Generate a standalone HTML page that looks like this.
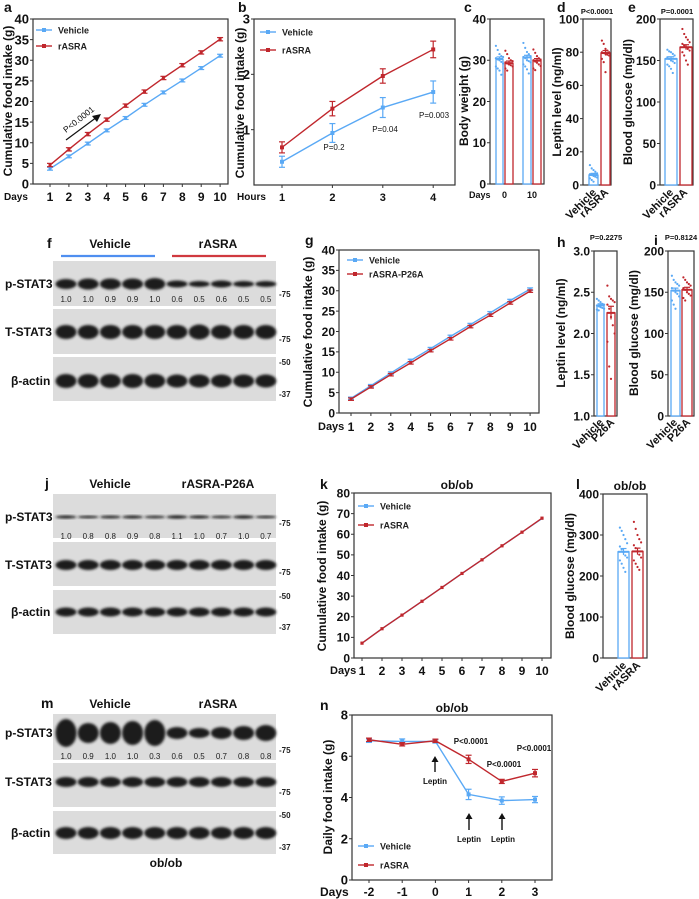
<!DOCTYPE html>
<html><head><meta charset="utf-8">
<style>
body{margin:0;background:#fff;}
svg{display:block;font-family:"Liberation Sans",Arial,sans-serif;}
</style></head>
<body>
<svg id="fig" width="699" height="899" viewBox="0 0 699 899" xmlns="http://www.w3.org/2000/svg">
<defs><filter id="blur" x="-20%" y="-50%" width="140%" height="200%"><feGaussianBlur stdDeviation="1.2"/></filter></defs>
</svg>
<script>
// ---- data ----
const aDays=[1,2,3,4,5,6,7,8,9,10];
const aVeh=[3.7,6.7,9.8,13,16,19.2,22.2,25.1,28.1,31.1];
const aRasra=[4.6,8.4,12.1,15.6,19,22.4,25.7,28.8,31.9,35.1];
const bHours=[1,2,3,4];
const bVeh=[0.42,0.94,1.40,1.68];
const bVehErr=[0.1,0.17,0.18,0.2];
const bRasra=[0.68,1.38,1.97,2.45];
const bRasraErr=[0.1,0.13,0.13,0.15];
const cGroups=["0","10"];
const cVehMean=[30.3,30.7];
const cRasraMean=[29.3,29.9];
const cVehDots=[[33.5,32.5,31.5,31,30.8,30.5,30.2,30,29.6,29.2,28.5,28,27.5,26.5],[34.2,33,32,31.5,31,30.8,30.5,30,29.8,29.5,29,28.5,27.8,26.8]];
const cRasraDots=[[32.3,31.5,30.5,30,29.8,29.5,29.2,29,28.8,28.5,28,27.5],[32.6,31.8,31,30.5,30.2,30,29.7,29.4,29,28.6,28,27.6]];
const dMean=[6,79.5];
const dVehDots=[12,10,9,8,7,6.5,6,5.5,5,4.5,4,3,2];
const dRasraDots=[87,85,82,81,80,80,79.5,79,78.5,78,76,74,68];
const eMean=[152,166];
const eVehDots=[163,161,160,158,156,154,152,150,149,147,145,143,140,135];
const eRasraDots=[188,182,178,175,172,170,168,166,164,162,160,156,150,145];
const gVeh=[3.6,6.7,9.8,12.9,15.8,18.8,21.7,24.6,27.6,30.4];
const gP26A=[3.4,6.4,9.4,12.3,15.3,18.2,21.2,24.0,27.0,29.9];
const hMean=[2.34,2.25];
const hVehDots=[2.42,2.4,2.38,2.36,2.35,2.34,2.33,2.32,2.31,2.3,2.29,2.28];
const hRasraDots=[2.58,2.45,2.42,2.4,2.38,2.35,2.3,2.2,2.1,2.0,1.9,1.6,1.45];
const iMean=[152,153];
const iVehDots=[170,165,162,160,158,155,152,150,148,145,140,135,130];
const iRasraDots=[168,165,162,160,158,155,153,150,148,146,143,140];
const kVeh=[7.2,14.2,20.8,27.5,34.2,41,47.6,54.4,61,67.6];
const kRasra=[7.2,14.2,20.8,27.5,34.2,41,47.6,54.4,61,67.8];
const lMean=[259,260];
const lVehDots=[318,310,300,290,280,272,265,258,250,245,238,230,220,210];
const lRasraDots=[332,315,300,290,282,275,268,260,252,245,238,230,222,215];
const nDays=[-2,-1,0,1,2,3];
const nVeh=[6.75,6.72,6.72,4.15,3.85,3.9];
const nVehErr=[0.08,0.12,0.08,0.25,0.18,0.15];
const nRasra=[6.8,6.58,6.75,5.85,4.78,5.18];
const nRasraErr=[0.08,0.08,0.08,0.2,0.1,0.18];
const fNums=["1.0","1.0","0.9","0.9","1.0","0.6","0.5","0.6","0.5","0.5"];
const jNums=["1.0","0.8","0.8","0.9","0.8","1.1","1.0","0.7","1.0","0.7"];
const mNums=["1.0","0.9","1.0","1.0","0.3","0.6","0.5","0.7","0.8","0.8"];

const BLUE="#5aa9f5", RED="#c0272d";
const NS="http://www.w3.org/2000/svg";
const svg=document.getElementById('fig');
function el(tag,attrs){const e=document.createElementNS(NS,tag);for(const k in attrs)e.setAttribute(k,attrs[k]);svg.appendChild(e);return e;}
function T(x,y,s,size,anchor,weight,fill,rot,name){
  const t=el('text',{x:x,y:y,'font-size':size,'text-anchor':anchor||'start','font-weight':weight||'bold',fill:fill||'#111'});
  if(rot)t.setAttribute('transform','rotate('+rot+' '+x+' '+y+')');
  t.textContent=s;
  
  
  return t;
}
function L(x1,y1,x2,y2,stroke,w,name){
  const l=el('line',{x1:x1,y1:y1,x2:x2,y2:y2,stroke:stroke||'#222','stroke-width':w||1});
  
  
  return l;
}
function frame(x0,x1,yt,yb,name){
  const r=el('rect',{x:x0,y:yt,width:x1-x0,height:yb-yt,fill:'none',stroke:'#333','stroke-width':1.2});
  
  
}
function yAxis(x0,yt,yb,ymin,ymax,ticks,size,fmt,name){
  const sy=v=>yb-(v-ymin)/(ymax-ymin)*(yb-yt);
  ticks.forEach(v=>{L(x0-3,sy(v),x0,sy(v),'#333',1,name+'-tick');T(x0-4,sy(v)+size*0.36,fmt?fmt(v):String(v),size,'end','bold','#111',0,name+'-tick-label');});
  return sy;
}
function series(xs,ys,errs,sy,color,name,marker){
  const pts=xs.map((x,i)=>x+','+sy(ys[i])).join(' ');
  const p=el('polyline',{points:pts,fill:'none',stroke:color,'stroke-width':1.4});
  
  
  xs.forEach((x,i)=>{
    if(errs){
      const e=errs[i];
      L(x,sy(ys[i]-e),x,sy(ys[i]+e),color,1.2,name+'-error');
      L(x-3,sy(ys[i]+e),x+3,sy(ys[i]+e),color,1.2,name+'-error-cap');
      L(x-3,sy(ys[i]-e),x+3,sy(ys[i]-e),color,1.2,name+'-error-cap');
    }
    const m=el('rect',{x:x-(marker||2),y:sy(ys[i])-(marker||2),width:2*(marker||2),height:2*(marker||2),fill:color});
    
    
  });
}
function legend(x,y,color,label,name){
  L(x,y,x+16,y,color,1.4,name+'-swatch');
  const m=el('rect',{x:x+6,y:y-2,width:4,height:4,fill:color});
  
  
  T(x+22,y+3.5,label,9,'start','bold','#222',0,name+'-text');
}
function bar(x0,x1,v,sy,color,dots,name,err){
  const r=el('rect',{x:x0,y:sy(v),width:x1-x0,height:Math.max(0,sy.base-sy(v)),fill:'#fff',stroke:color,'stroke-width':1.3});
  
  
  const cx=(x0+x1)/2;
  dots.forEach((d,i)=>{
    const c=el('circle',{cx:cx+((i%5)-2)*1.8,cy:sy(d),r:1.1,fill:color});
    
    
  });
  const e=err;
  L(cx,sy(v-e),cx,sy(v+e),color,1.2,name+'-error');
  L(cx-3,sy(v+e),cx+3,sy(v+e),color,1.2,name+'-error-cap');
  L(x0,sy(v),x1,sy(v),color,2,name+'-mean');
}
function mkScale(yt,yb,ymin,ymax){const f=v=>yb-(v-ymin)/(ymax-ymin)*(yb-yt);f.base=yb;return f;}

// ===== Panel a =====
T(4,12,'a',14,'start','bold','#111',0,'panel-a-letter');
frame(33,228,19,184,'panel-a-plot-frame');
let sy=mkScale(19,184,0,40);
yAxis(33,19,184,0,40,[0,5,10,15,20,25,30,35,40],13,null,'a-y');
T(12,101,'Cumulative food intake (g)',12,'middle','bold','#111',-90,'a-y-axis-title');
T(4,200,'Days',10,'start','bold','#111',0,'a-x-axis-title');
let ax=aDays.map((d,i)=>50+i*18.9);
ax.forEach((x,i)=>{L(x,184,x,187,'#333',1,'a-x-tick');T(x,201,String(aDays[i]),12,'middle','bold','#111',0,'a-x-tick-label');});
series(ax,aVeh,aVeh.map(()=>0.35),sy,BLUE,'a-vehicle',1.5);
series(ax,aRasra,aRasra.map(()=>0.4),sy,RED,'a-rasra',1.5);
legend(36,30,BLUE,'Vehicle','a-legend-vehicle');
legend(36,46,RED,'rASRA','a-legend-rasra');
L(66,140,97,117,'#111',1.2,'a-arrow-shaft');
{const h=el('polygon',{points:'101,114 92,116 97,122',fill:'#111'});}
T(66,133,'P<0.0001',8.5,'start','normal','#111',-38,'a-pvalue');

// ===== Panel b =====
T(238,12,'b',14,'start','bold','#111',0,'panel-b-letter');
frame(254,455,19,185,'panel-b-plot-frame');
sy=mkScale(19,185,0,3);
yAxis(254,19,185,0,3,[1,2,3],13,null,'b-y');
T(244,103,'Cumulative food intake (g)',12,'middle','bold','#111',-90,'b-y-axis-title');
T(237,200,'Hours',10,'start','bold','#111',0,'b-x-axis-title');
let bx=bHours.map((h,i)=>282+i*50.4);
bx.forEach((x,i)=>{L(x,185,x,188,'#333',1,'b-x-tick');T(x,201,String(bHours[i]),11,'middle','bold','#111',0,'b-x-tick-label');});
series(bx,bVeh,bVehErr,sy,BLUE,'b-vehicle',2);
series(bx,bRasra,bRasraErr,sy,RED,'b-rasra',2);
legend(260,32,BLUE,'Vehicle','b-legend-vehicle');
legend(260,50,RED,'rASRA','b-legend-rasra');
T(334,150,'P=0.2',8,'middle','normal','#111',0,'b-pvalue-2h');
T(385,132,'P=0.04',8,'middle','normal','#111',0,'b-pvalue-3h');
T(434,118,'P=0.003',8,'middle','normal','#111',0,'b-pvalue-4h');

// ===== Panel c =====
T(464,12,'c',14,'start','bold','#111',0,'panel-c-letter');
frame(490,544,19,184,'panel-c-plot-frame');
sy=mkScale(19,184,0,40);
yAxis(490,19,184,0,40,[0,10,20,30,40],12,null,'c-y');
T(468,101,'Body weight (g)',12,'middle','bold','#111',-90,'c-y-axis-title');
T(469,198,'Days',9,'start','bold','#111',0,'c-x-axis-title');
[[496,503,505,513],[523,531,533,541]].forEach((p,g)=>{
  bar(p[0],p[1],cVehMean[g],sy,BLUE,cVehDots[g],'c-bar-vehicle-day'+cGroups[g],0.5);
  bar(p[2],p[3],cRasraMean[g],sy,RED,cRasraDots[g],'c-bar-rasra-day'+cGroups[g],0.5);
  T((p[0]+p[3])/2,198,cGroups[g],9,'middle','bold','#111',0,'c-x-tick-label');
});

// ===== Panel d =====
T(557,12,'d',14,'start','bold','#111',0,'panel-d-letter');
frame(583,611,19,185,'panel-d-plot-frame');
sy=mkScale(19,185,0,100);
yAxis(583,19,185,0,100,[0,20,40,60,80,100],12,null,'d-y');
T(561,102,'Leptin level (ng/ml)',12,'middle','bold','#111',-90,'d-y-axis-title');
bar(589,598,dMean[0],sy,BLUE,dVehDots,'d-bar-vehicle',1);
bar(601,610,dMean[1],sy,RED,dRasraDots,'d-bar-rasra',1.5);
T(597,14,'P<0.0001',7.5,'middle','bold','#111',0,'d-pvalue');
T(597,193,'Vehicle',11,'end','bold','#111',-45,'d-x-label-vehicle');
T(609,193,'rASRA',11,'end','bold','#111',-45,'d-x-label-rasra');

// ===== Panel e =====
T(628,12,'e',14,'start','bold','#111',0,'panel-e-letter');
frame(660,693,19,185,'panel-e-plot-frame');
sy=mkScale(19,185,0,200);
yAxis(660,19,185,0,200,[0,50,100,150,200],12,null,'e-y');
T(632,102,'Blood glucose (mg/dl)',12,'middle','bold','#111',-90,'e-y-axis-title');
bar(665,677,eMean[0],sy,BLUE,eVehDots,'e-bar-vehicle',2.5);
bar(680,692,eMean[1],sy,RED,eRasraDots,'e-bar-rasra',3);
T(677,14,'P=0.0001',7.5,'middle','bold','#111',0,'e-pvalue');
T(674,193,'Vehicle',11,'end','bold','#111',-45,'e-x-label-vehicle');
T(688,193,'rASRA',11,'end','bold','#111',-45,'e-x-label-rasra');

// ===== Blots =====
function blot(cfg){
  const p=cfg.p;
  T(cfg.letterX,cfg.top,cfg.letter,14,'start','bold','#111',0,p+'-panel-letter');
  T(110,cfg.top,'Vehicle',12,'middle','bold','#111',0,p+'-group-vehicle');
  T(cfg.rLabelX,cfg.top,cfg.rLabel,12,'middle','bold','#111',0,p+'-group-treated');
  L(61,cfg.top+8,155,cfg.top+8,'#4f8ff0',2.2,p+'-vehicle-underline');
  L(172,cfg.top+8,266,cfg.top+8,'#d0393f',2.2,p+'-treated-underline');
  const names=['p-STAT3','T-STAT3','β-actin'];
  cfg.rows.forEach((r,k)=>{
    const bg=el('rect',{x:53,y:r[0],width:223,height:r[1]-r[0],fill:'#dcdcdc'});
    
    
    T(k==2?11:5,r[2]+4,names[k],12,'start','bold','#111',0,p+'-row-label');
    for(let i=0;i<10;i++){
      const cx=66+i*22.2;
      const h=r[3][i];
      const b=el('ellipse',{cx:cx,cy:r[2],rx:10.5,ry:h,fill:'#1a1a1a',filter:'url(#blur)'});
      
      
    }
  });
  cfg.nums.forEach((n,i)=>T(66+i*22.2,cfg.numY,n,8,'middle','normal','#222',0,p+'-quant'));
  cfg.markers.forEach(m=>T(279,m[1]+3,'-'+m[0],8,'start','bold','#222',0,p+'-mw-marker'));
}
blot({p:'f',letter:'f',letterX:47,top:248,rLabel:'rASRA',rLabelX:218,nums:fNums,numY:302,
  rows:[[261,306,284,[5,5.5,5.5,5.5,6,3.5,3,3.5,3,3]],[309,354,332,[7,7,7,7,7,7,7.5,7,7,7]],[357,401,381,[7,7,7,7,7,6.5,6.5,6.5,6.5,6.5]]],
  markers:[['75',294],['75',339],['50',362],['37',394]]});
blot({p:'j',letter:'j',letterX:45,top:488,rLabel:'rASRA-P26A',rLabelX:218,nums:jNums,numY:539,
  rows:[[494,538,517,[1.5,1.2,1.4,1.5,1.3,1.6,1.5,1.3,1.6,1.2]],[542,586,565,[5,5,5,5,5,5,5,5,5,5]],[590,634,612,[4.5,4.5,4.5,4.5,4.5,4.5,4.5,4.5,4.5,4.5]]],
  markers:[['75',523],['75',572],['50',596],['37',627]]});
blot({p:'m',letter:'m',letterX:41,top:708,rLabel:'rASRA',rLabelX:218,nums:mNums,numY:759,
  rows:[[714,760,733,[14,10,11,12,13,6,5,6,7,8]],[763,807,782,[5,5,5,5,5,5,5,5,5,5]],[811,854,833,[6,6,6,6,6,6,6,6,6,6]]],
  markers:[['75',750],['75',792],['50',815],['37',847]]});
T(166,867,'ob/ob',12,'middle','bold','#111',0,'m-ob-ob-label');

// ===== Panel g =====
T(305,245,'g',14,'start','bold','#111',0,'panel-g-letter');
frame(339,539,250,413,'panel-g-plot-frame');
sy=mkScale(250,413,0,40);
yAxis(339,250,413,0,40,[0,5,10,15,20,25,30,35,40],12,null,'g-y');
T(312,332,'Cumulative food intake (g)',12,'middle','bold','#111',-90,'g-y-axis-title');
T(318,430,'Days',11,'start','bold','#111',0,'g-x-axis-title');
let gx=aDays.map((d,i)=>351+i*19.9);
gx.forEach((x,i)=>{L(x,413,x,416,'#333',1,'g-x-tick');T(x,431,String(aDays[i]),12,'middle','bold','#111',0,'g-x-tick-label');});
series(gx,gVeh,gVeh.map(()=>0.3),sy,BLUE,'g-vehicle',1.6);
series(gx,gP26A,gP26A.map(()=>0.3),sy,RED,'g-p26a',1.4);
legend(347,260,BLUE,'Vehicle','g-legend-vehicle');
legend(347,274,RED,'rASRA-P26A','g-legend-p26a');

// ===== Panel h =====
T(557,247,'h',14,'start','bold','#111',0,'panel-h-letter');
frame(594,617,251,416,'panel-h-plot-frame');
sy=mkScale(251,416,1,3);
yAxis(594,251,416,1,3,[1,1.5,2,2.5,3],12,v=>v.toFixed(1),'h-y');
T(565,333,'Leptin level (ng/ml)',12,'middle','bold','#111',-90,'h-y-axis-title');
bar(597,604,hMean[0],sy,BLUE,hVehDots,'h-bar-vehicle',0.02);
bar(607,615,hMean[1],sy,RED,hRasraDots,'h-bar-p26a',0.08);
T(606,240,'P=0.2275',7.5,'middle','bold','#111',0,'h-pvalue');
T(604,423,'Vehicle',11,'end','bold','#111',-45,'h-x-label-vehicle');
T(615,423,'P26A',11,'end','bold','#111',-45,'h-x-label-p26a');

// ===== Panel i =====
T(654,245,'i',14,'start','bold','#111',0,'panel-i-letter');
frame(668,694,251,416,'panel-i-plot-frame');
sy=mkScale(251,416,0,200);
yAxis(668,251,416,0,200,[0,50,100,150,200],12,null,'i-y');
T(638,333,'Blood glucose (mg/dl)',12,'middle','bold','#111',-90,'i-y-axis-title');
bar(671,680,iMean[0],sy,BLUE,iVehDots,'i-bar-vehicle',3);
bar(682,692,iMean[1],sy,RED,iRasraDots,'i-bar-p26a',3);
T(681,240,'P=0.8124',7.5,'middle','bold','#111',0,'i-pvalue');
T(678,423,'Vehicle',11,'end','bold','#111',-45,'i-x-label-vehicle');
T(691,423,'P26A',11,'end','bold','#111',-45,'i-x-label-p26a');

// ===== Panel k =====
T(320,489,'k',14,'start','bold','#111',0,'panel-k-letter');
frame(354,551,493,658,'panel-k-plot-frame');
sy=mkScale(493,658,0,80);
yAxis(354,493,658,0,80,[0,10,20,30,40,50,60,70,80],12,null,'k-y');
T(326,576,'Cumulative food intake (g)',12,'middle','bold','#111',-90,'k-y-axis-title');
T(457,489,'ob/ob',12,'middle','bold','#111',0,'k-title');
T(330,674,'Days',11,'start','bold','#111',0,'k-x-axis-title');
let kx=aDays.map((d,i)=>362+i*20);
kx.forEach((x,i)=>{L(x,658,x,661,'#333',1,'k-x-tick');T(x,675,String(aDays[i]),12,'middle','bold','#111',0,'k-x-tick-label');});
series(kx,kVeh,null,sy,BLUE,'k-vehicle',1.2);
series(kx,kRasra,null,sy,RED,'k-rasra',1.6);
legend(358,506,BLUE,'Vehicle','k-legend-vehicle');
legend(358,525,RED,'rASRA','k-legend-rasra');

// ===== Panel l =====
T(576,489,'l',14,'start','bold','#111',0,'panel-l-letter');
frame(603,647,494,658,'panel-l-plot-frame');
sy=mkScale(494,658,0,400);
yAxis(603,494,658,0,400,[0,100,200,300,400],12,null,'l-y');
T(574,576,'Blood glucose (mg/dl)',12,'middle','bold','#111',-90,'l-y-axis-title');
T(630,490,'ob/ob',12,'middle','bold','#111',0,'l-title');
bar(618,629,lMean[0],sy,BLUE,lVehDots,'l-bar-vehicle',8);
bar(632,643,lMean[1],sy,RED,lRasraDots,'l-bar-rasra',8);
T(627,666,'Vehicle',11,'end','bold','#111',-45,'l-x-label-vehicle');
T(641,666,'rASRA',11,'end','bold','#111',-45,'l-x-label-rasra');

// ===== Panel n =====
T(320,710,'n',14,'start','bold','#111',0,'panel-n-letter');
frame(352,552,715,880,'panel-n-plot-frame');
sy=mkScale(715,880,0,8);
yAxis(352,715,880,0,8,[0,2,4,6,8],13,null,'n-y');
T(332,797,'Daily food intake (g)',12,'middle','bold','#111',-90,'n-y-axis-title');
T(452,712,'ob/ob',12,'middle','bold','#111',0,'n-title');
T(320,896,'Days',12,'start','bold','#111',0,'n-x-axis-title');
let nx=nDays.map((d,i)=>369+i*33.2);
nx.forEach((x,i)=>{L(x,880,x,883,'#333',1,'n-x-tick');T(x,896,String(nDays[i]),12,'middle','bold','#111',0,'n-x-tick-label');});
series(nx,nVeh,nVehErr,sy,BLUE,'n-vehicle',2);
series(nx,nRasra,nRasraErr,sy,RED,'n-rasra',2);
legend(358,846,BLUE,'Vehicle','n-legend-vehicle');
legend(358,865,RED,'rASRA','n-legend-rasra');
T(471,744,'P<0.0001',8,'middle','bold','#111',0,'n-pvalue-day1');
T(504,767,'P<0.0001',8,'middle','bold','#111',0,'n-pvalue-day2');
T(534,751,'P<0.0001',8,'middle','bold','#111',0,'n-pvalue-day3');
function arrow(x,y1,y2,name){
  L(x,y1,x,y2+5,'#111',1.4,name+'-shaft');
  const h=el('polygon',{points:(x-3.5)+','+(y2+6)+' '+(x+3.5)+','+(y2+6)+' '+x+','+y2,fill:'#111'});
  
  
}
arrow(435,772,756,'n-leptin-arrow-day0');
T(435,784,'Leptin',8,'middle','bold','#111',0,'n-leptin-label-day0');
arrow(469,830,813,'n-leptin-arrow-day1');
T(469,842,'Leptin',8,'middle','bold','#111',0,'n-leptin-label-day1');
arrow(502,830,813,'n-leptin-arrow-day2');
T(503,842,'Leptin',8,'middle','bold','#111',0,'n-leptin-label-day2');
</script>
</body></html>
